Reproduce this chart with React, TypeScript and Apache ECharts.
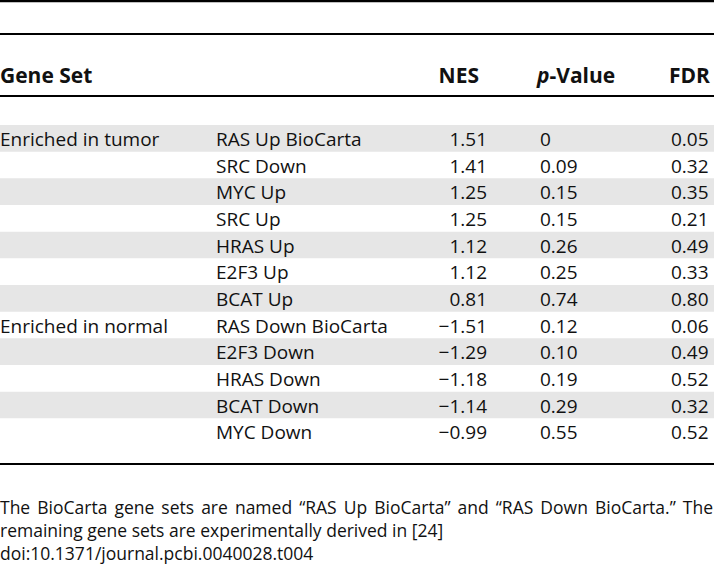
import React, { useEffect, useRef } from "react";
import * as echarts from "echarts";

// ---------- data ----------
const groupLabels = ["Enriched in tumor", "", "", "", "", "", "", "Enriched in normal", "", "", "", ""];
const geneSets = [
  "RAS Up BioCarta", "SRC Down", "MYC Up", "SRC Up", "HRAS Up", "E2F3 Up", "BCAT Up",
  "RAS Down BioCarta", "E2F3 Down", "HRAS Down", "BCAT Down", "MYC Down",
];
const nesValues = [1.51, 1.41, 1.25, 1.25, 1.12, 1.12, 0.81, -1.51, -1.29, -1.18, -1.14, -0.99];
const pValues = [0, 0.09, 0.15, 0.15, 0.26, 0.25, 0.74, 0.12, 0.1, 0.19, 0.29, 0.55];
const fdrValues = [0.05, 0.32, 0.35, 0.21, 0.49, 0.33, 0.8, 0.06, 0.49, 0.52, 0.32, 0.52];
const headerLabels = ["Gene Set", "NES", "-Value", "FDR"];
const footnoteLine1 = "The BioCarta gene sets are named “RAS Up BioCarta” and “RAS Down BioCarta.” The";
const footnoteLine2 = "remaining gene sets are experimentally derived in [24]";
const doiLine = "doi:10.1371/journal.pcbi.0040028.t004";

// ---------- layout ----------
const W = 714;
const H = 565;
const FAMILY = '"Open Sans", "Noto Sans", sans-serif';
const FS = 19;
const HFS = 21;
const NFS = 17.5;
const FONT = `${FS}px ${FAMILY}`;
const BOLD = `bold ${HFS}px ${FAMILY}`;
const NOTE = `${NFS}px ${FAMILY}`;
const ROW_TOP = 125;
const ROW_H = 26.67;
const COL_GROUP = 0;
const COL_GENE = 216;
const COL_NES_RIGHT = 487;
const COL_P = 540;
const COL_FDR = 671;
const SHADE = "#e6e6e6";
const INK = "#111";

const fmt = (v: number) => {
  const s = v === 0 ? "0" : Math.abs(v).toFixed(2);
  return v < 0 ? "\u2212" + s : s;
};

function justifiedWords(line: string, y: number, right: number, font: string) {
  const words = line.split(" ");
  const ctx = document.createElement("canvas").getContext("2d")!;
  ctx.font = font;
  const widths = words.map((w) => ctx.measureText(w).width);
  const total = widths.reduce((a, b) => a + b, 0);
  const gap = (right - total) / (words.length - 1);
  let x = 0;
  return words.map((w, i) => {
    const el = {
      type: "text",
      x,
      y,
      style: { text: w, font, fill: INK, align: "left", verticalAlign: "middle" },
    };
    x += widths[i] + gap;
    return el;
  });
}

export default function App() {
  const ref = useRef<HTMLDivElement>(null);
  useEffect(() => {
    if (!ref.current) return;
    const chart = echarts.init(ref.current, undefined, { renderer: "svg" });
    const rows = geneSets.map((_, i) => [0, i]);
    const hline = (y: number, w: number) => ({
      type: "line",
      shape: { x1: 0, y1: y, x2: W, y2: y },
      style: { stroke: "#000", lineWidth: w },
    });
    chart.setOption({
      animation: false,
      backgroundColor: "#fff",
      grid: { left: 0, right: 0, top: ROW_TOP, height: ROW_H * geneSets.length },
      xAxis: { type: "value", min: 0, max: W, show: false },
      yAxis: {
        type: "category",
        data: geneSets,
        inverse: true,
        show: false,
      },
      series: [
        {
          type: "custom",
          clip: false,
          data: rows,
          encode: { x: 0, y: 1 },
          renderItem: (params: any, api: any) => {
            const i = api.value(1);
            const c = api.coord([0, i]);
            const h = api.size([0, 1])[1];
            const y = c[1];
            const children: any[] = [];
            if (i % 2 === 0) {
              children.push({
                type: "rect",
                shape: { x: 0, y: y - h / 2, width: W, height: h },
                style: { fill: SHADE },
              });
            }
            const t = (text: string, x: number, align: string) => ({
              type: "text",
              x,
              y: y + 0.5,
              style: { text, font: FONT, fill: INK, align, verticalAlign: "middle" },
            });
            if (groupLabels[i]) children.push(t(groupLabels[i], COL_GROUP, "left"));
            children.push(t(geneSets[i], COL_GENE, "left"));
            children.push(t(fmt(nesValues[i]), COL_NES_RIGHT, "right"));
            children.push(t(fmt(pValues[i]), COL_P, "left"));
            children.push(t(fmt(fdrValues[i]), COL_FDR, "left"));
            return { type: "group", children };
          },
        },
      ],
      graphic: [
        hline(1, 2.5),
        hline(34, 2),
        hline(96, 2),
        hline(464, 2),
        {
          type: "text",
          x: 0,
          y: 75,
          style: { text: headerLabels[0], font: BOLD, fill: INK, verticalAlign: "middle" },
        },
        {
          type: "text",
          x: 479,
          y: 75,
          style: { text: headerLabels[1], font: BOLD, fill: INK, align: "right", verticalAlign: "middle" },
        },
        {
          type: "text",
          x: 537,
          y: 75,
          style: {
            text: "{i|p}{b|" + headerLabels[2] + "}",
            fill: INK,
            verticalAlign: "middle",
            rich: {
              i: { font: `italic bold ${HFS}px ${FAMILY}`, fill: INK },
              b: { font: BOLD, fill: INK },
            },
          },
        },
        {
          type: "text",
          x: 669,
          y: 75,
          style: { text: headerLabels[3], font: BOLD, fill: INK, verticalAlign: "middle" },
        },
        ...justifiedWords(footnoteLine1, 507, 713, NOTE),
        {
          type: "text",
          x: 0,
          y: 530,
          style: { text: footnoteLine2, font: NOTE, fill: INK, verticalAlign: "middle" },
        },
        {
          type: "text",
          x: 0,
          y: 553,
          style: { text: doiLine, font: NOTE, fill: INK, verticalAlign: "middle" },
        },
      ],
    });
    return () => chart.dispose();
  }, []);
  return (
    <div
      ref={ref}
      style={{ position: "fixed", left: 0, top: 0, width: W, height: H, background: "#fff" }}
    />
  );
}
